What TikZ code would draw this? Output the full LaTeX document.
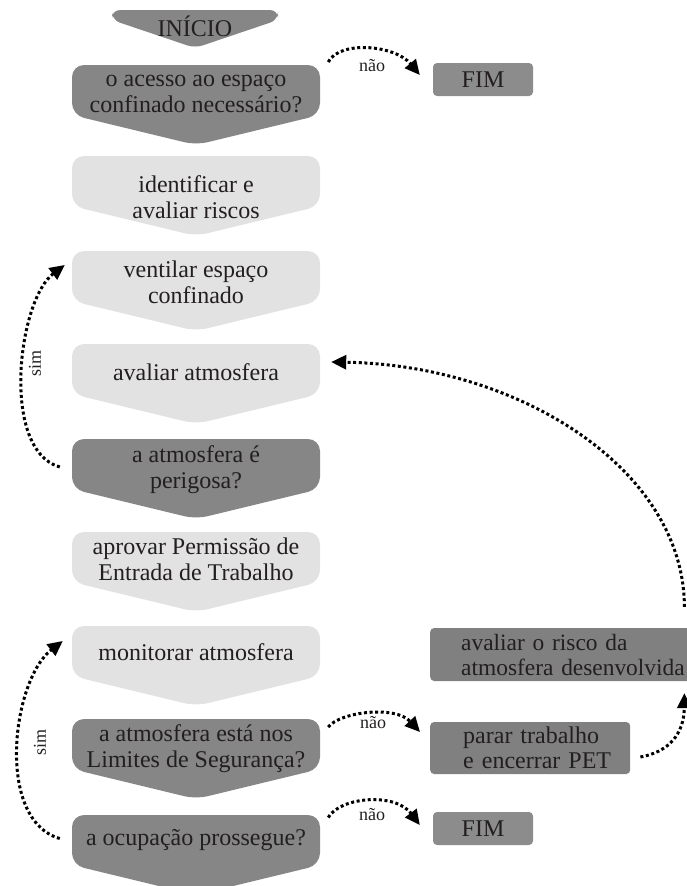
\documentclass[tikz,border=0pt]{standalone}
\usepackage{fontspec}
\setmainfont{Liberation Serif}
\usetikzlibrary{arrows.meta}
\definecolor{darkg}{RGB}{134,134,134}
\definecolor{boxg}{RGB}{128,128,128}
\definecolor{fimg}{RGB}{140,140,140}
\definecolor{lightg}{RGB}{226,226,226}
\definecolor{ink}{RGB}{35,31,32}
\newcommand{\chevshape}[2]{%
  \fill[#1, rounded corners=12pt] (72,#2) -- (320,#2) -- (320,#2+50) -- (196,#2+80) -- (72,#2+50) -- cycle;}
\begin{document}
\begin{tikzpicture}[x=1pt,y=-1pt,
  steptext/.style={text=ink, font=\fontsize{24}{26}\selectfont, align=center, minimum width=248pt, inner sep=0pt},
  sidebox/.style={fill=boxg, rounded corners=4pt, text=ink, font=\fontsize{24}{25}\selectfont, align=left, inner xsep=0pt, inner ysep=0pt, anchor=west},
  fimbox/.style={fill=fimg, rounded corners=4pt, text=ink, font=\fontsize{24}{26}\selectfont, minimum width=100pt, minimum height=33pt, inner sep=0pt},
  flow/.style={black, line width=3pt, dash pattern=on 3pt off 2.6pt, -{Triangle[length=15pt,width=14pt]}},
  lbl/.style={text=ink, font=\fontsize{18}{20}\selectfont, inner sep=0pt}]
\useasboundingbox (0,0) rectangle (686,886);

% shapes of the flow steps
\fill[darkg, rounded corners=8pt] (112,10) -- (278,10) -- (278,20) -- (195,48) -- (112,20) -- cycle;
\chevshape{darkg}{65}
\chevshape{lightg}{156}
\chevshape{lightg}{251}
\chevshape{lightg}{344}
\chevshape{darkg}{439}
\chevshape{lightg}{532}
\chevshape{lightg}{626}
\chevshape{darkg}{719}
\chevshape{darkg}{815}

% texts of the flow steps
\node[steptext, minimum width=0pt] (inicio) at (195,26) {INÍCIO};
\node[steptext] (acesso) at (196,94) {o acesso ao espaço\\confinado necessário?};
\node[steptext] (ident) at (196,197) {identificar e\\avaliar riscos};
\node[steptext] (vent) at (196,282) {ventilar espaço\\confinado};
\node[steptext] (aval) at (196,372) {avaliar atmosfera};
\node[steptext] (perig) at (196,470) {a atmosfera é\\perigosa?};
\node[steptext] (aprov) at (196,559) {aprovar Permissão de\\Entrada de Trabalho};
\node[steptext] (monit) at (196,652) {monitorar atmosfera};
\node[steptext] (limit) at (196,749) {a atmosfera está nos\\Limites de Segurança?};
\node[steptext] (ocup) at (196,839.5) {a ocupação prossegue?};

% side boxes
\node[fimbox] (fim1) at (483,79.5) {FIM};
\node[fimbox] (fim2) at (483,828.5) {FIM};
\node[sidebox, text width=270pt, minimum height=53pt, font=\fontsize{23.4}{25}\selectfont] (risco) at (430,654.5)
  {\hspace*{31pt}avaliar o risco da\\\hspace*{31pt}atmosfera desenvolvida};
\node[sidebox, text width=200pt, minimum height=52pt] (parar) at (430,748)
  {\hspace*{33pt}parar trabalho\\\hspace*{33pt}e encerrar PET};

% connectors
\draw[flow] ([xshift=8pt,yshift=32pt]acesso.east) .. controls (340,40) and (395,45) .. ([xshift=-13pt,yshift=4.5pt]fim1.west);
\draw[flow] ([xshift=-12pt,yshift=3pt]perig.west) .. controls (0,450) and (18,300) .. ([xshift=-7pt,yshift=17pt]vent.west);
\draw[flow] ([xshift=-12pt,yshift=1pt]ocup.west) .. controls (-5,820) and (12,680) .. ([xshift=-9pt,yshift=11pt]monit.west);
\draw[flow] ([xshift=8pt,yshift=22pt]limit.east) .. controls (340,712) and (395,705) .. ([xshift=-10pt,yshift=16pt]parar.west);
\draw[flow] ([xshift=8pt,yshift=22pt]ocup.east) .. controls (340,797) and (395,792) .. ([xshift=-13pt,yshift=3.5pt]fim2.west);
\draw[flow] ([xshift=10pt,yshift=-9pt]parar.east) .. controls (668,752) and (684,735) .. ([xshift=-16pt,yshift=-12pt]risco.south east);
\draw[flow] ([xshift=-16pt,yshift=21pt]risco.north east) .. controls (684,470) and (520,365) .. ([xshift=11pt,yshift=10pt]aval.east);

% connector labels
\node[lbl] (nao1) at (372,66) {não};
\node[lbl] (nao2) at (373,723) {não};
\node[lbl] (nao3) at (372,815) {não};
\node[lbl, rotate=90] (sim1) at (35,363) {sim};
\node[lbl, rotate=90] (sim2) at (40,742) {sim};
\end{tikzpicture}
\end{document}
